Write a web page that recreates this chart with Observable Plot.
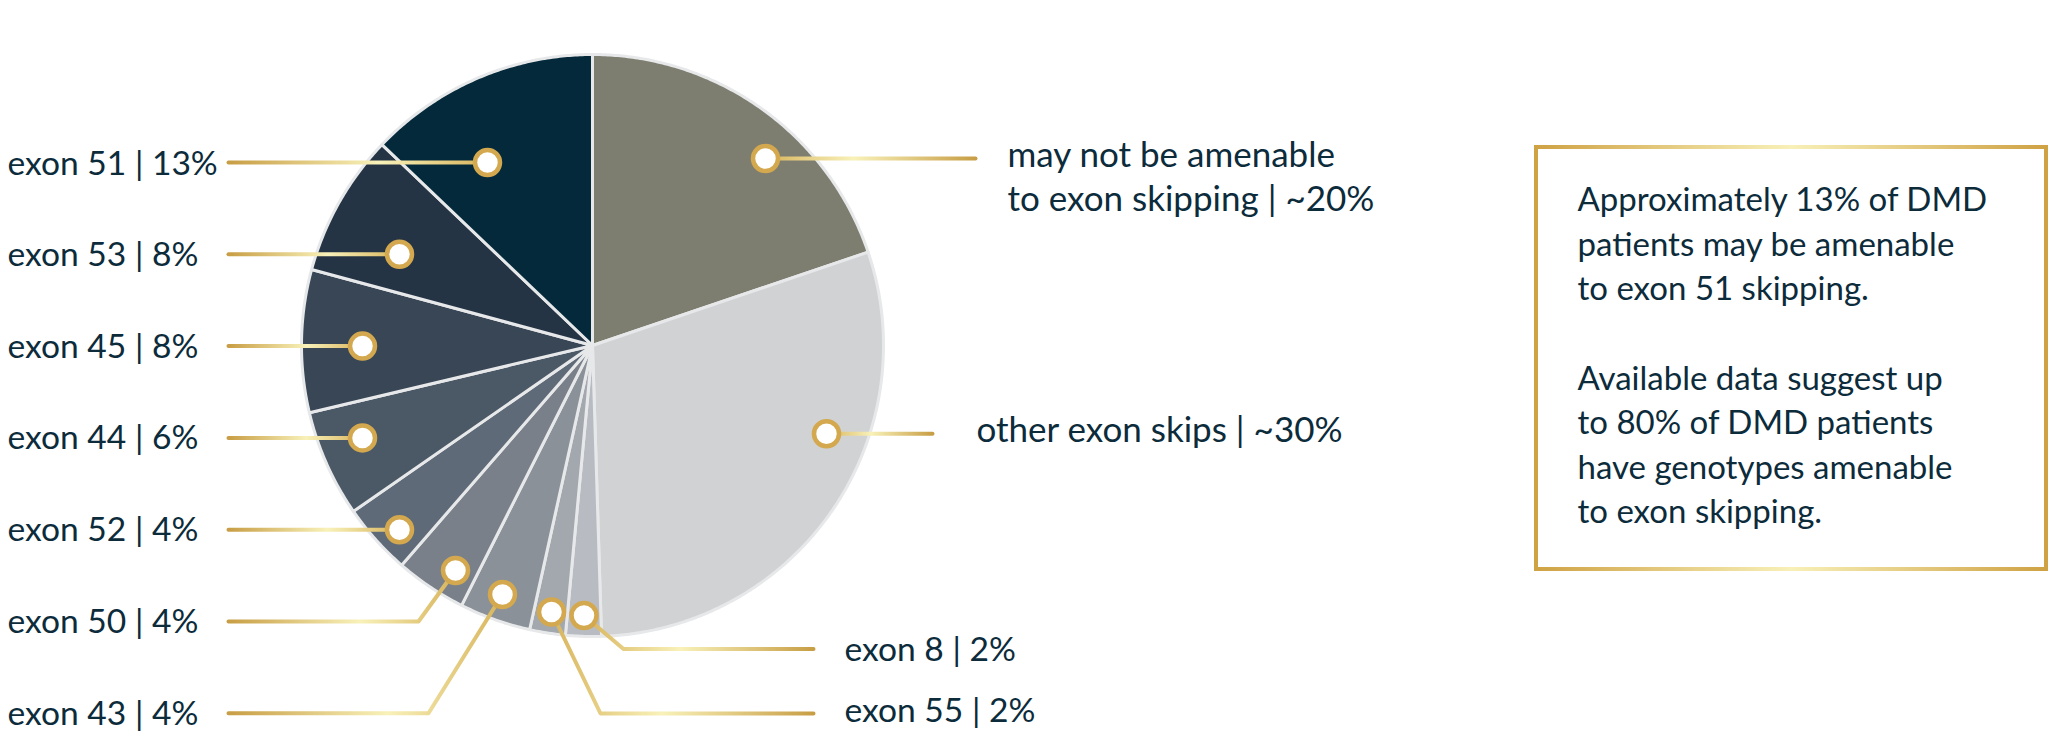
<!DOCTYPE html>
<html>
<head>
<meta charset="utf-8">
<script src="https://cdn.jsdelivr.net/npm/d3@7"></script>
<script src="https://cdn.jsdelivr.net/npm/@observablehq/plot@0.6"></script>
<style>
  html, body { margin: 0; padding: 0; background: #ffffff; }
</style>
</head>
<body>
<div id="chart"></div>
<script>
// ---------------- DATA ----------------
const sliceNames = ["may not be amenable to exon skipping", "other exon skips", "exon 8", "exon 55", "exon 43", "exon 50", "exon 52", "exon 44", "exon 45", "exon 53", "exon 51"];
const sliceValues = [20, 30, 2, 2, 4, 4, 4, 6, 8, 8, 13];
const sliceLabels = [
  ["may not be amenable", "to exon skipping | ~20%"],
  ["other exon skips | ~30%"],
  ["exon 8 | 2%"],
  ["exon 55 | 2%"],
  ["exon 43 | 4%"],
  ["exon 50 | 4%"],
  ["exon 52 | 4%"],
  ["exon 44 | 6%"],
  ["exon 45 | 8%"],
  ["exon 53 | 8%"],
  ["exon 51 | 13%"]
];
const noteLines = [
  "Approximately 13% of DMD",
  "patients may be amenable",
  "to exon 51 skipping.",
  "",
  "Available data suggest up",
  "to 80% of DMD patients",
  "have genotypes amenable",
  "to exon skipping."
];

// ---------------- STYLE / LAYOUT ----------------
const sliceColors = ["#7e7e70", "#d1d2d4", "#b8bcc2", "#a2a8ae", "#8a9199", "#79808a", "#5e6a77", "#4b5866", "#384655", "#243444", "#03293a"];
const W = 2064, H = 740;
const pie = {cx: 592, cy: 345, r: 291};
const textColor = "#0c2b3b";
const leftRow = k => 162 + 91.8 * k;
// per slice (index aligned): marker point, leader path, label start x, first baseline, line gap, font size
const layout = [
  {marker: [765, 158], path: [[975, 158]], label: [1007, 166.7], gap: 43.5, fs: 35},
  {marker: [826, 433.3], path: [[932, 433.3]], label: [976, 441.7], fs: 35},
  {marker: [583.5, 615], path: [[623, 648.5], [813, 648.5]], label: [844, 660], fs: 33.6},
  {marker: [551, 611.5], path: [[600, 713], [813, 713]], label: [844, 721.7], fs: 33.6},
  {marker: [502, 594], path: [[428, leftRow(6)], [228, leftRow(6)]], label: [7, leftRow(6) + 11.5], fs: 33.6},
  {marker: [455, 570], path: [[418, leftRow(5)], [228, leftRow(5)]], label: [7, leftRow(5) + 11.5], fs: 33.6},
  {marker: [399, leftRow(4)], path: [[228, leftRow(4)]], label: [7, leftRow(4) + 11.5], fs: 33.6},
  {marker: [362, leftRow(3)], path: [[228, leftRow(3)]], label: [7, leftRow(3) + 11.5], fs: 33.6},
  {marker: [362, leftRow(2)], path: [[228, leftRow(2)]], label: [7, leftRow(2) + 11.5], fs: 33.6},
  {marker: [399, leftRow(1)], path: [[228, leftRow(1)]], label: [7, leftRow(1) + 11.5], fs: 33.6},
  {marker: [487, leftRow(0)], path: [[228, leftRow(0)]], label: [7, leftRow(0) + 12], fs: 33.6}
];
const box = {x1: 1536, x2: 2046, y1: 147, y2: 569, textX: 1577, baseline: 210.7, gap: 44.6, fs: 33};

// ---------------- DERIVED TABLES ----------------
const arcs = d3.pie().sort(null).value(d => d)(sliceValues);
const slicePolys = arcs.map((a, i) => {
  const pts = [{x: pie.cx, y: pie.cy}];
  const n = Math.max(4, Math.ceil((a.endAngle - a.startAngle) / (Math.PI / 360)));
  for (let k = 0; k <= n; ++k) {
    const t = a.startAngle + (a.endAngle - a.startAngle) * k / n;
    pts.push({x: pie.cx + pie.r * Math.sin(t), y: pie.cy - pie.r * Math.cos(t)});
  }
  return {name: sliceNames[i], color: sliceColors[i], pts};
});

const leaders = layout.map((L, i) => {
  const pts = [L.marker, ...L.path].map(([x, y]) => ({x, y}));
  return {i, pts, x1: L.marker[0], x2: L.path[L.path.length - 1][0]};
});
const markers = layout.map((L, i) => ({name: sliceNames[i], x: L.marker[0], y: L.marker[1]}));

const labelRows = [];
sliceLabels.forEach((lines, i) => {
  const L = layout[i];
  lines.forEach((t, j) => labelRows.push({text: t, x: L.label[0], y: L.label[1] + j * (L.gap || 0), fs: L.fs}));
});
const noteRows = noteLines.map((t, j) => ({text: t, x: box.textX, y: box.baseline + j * box.gap}));

// ---------------- PLOT ----------------
const marks = [];
slicePolys.forEach(s => {
  marks.push(Plot.line(s.pts, {x: "x", y: "y", fill: s.color, stroke: "#e7e8ea", strokeWidth: 3, strokeLinejoin: "round", curve: "linear-closed"}));
});
leaders.forEach(l => {
  marks.push(Plot.line(l.pts, {x: "x", y: "y", stroke: `url(#lead${l.i})`, strokeWidth: 4, strokeLinejoin: "round"}));
});
marks.push(Plot.dot(markers, {x: "x", y: "y", r: 12.5, fill: "#ffffff", stroke: "#d3a84e", strokeWidth: 4.5}));
marks.push(Plot.rect([box], {x1: "x1", x2: "x2", y1: "y1", y2: "y2", fill: "#ffffff", stroke: "url(#boxgrad)", strokeWidth: 4}));

d3.groups(labelRows, d => d.fs).forEach(([fs, rows]) => {
  marks.push(Plot.text(rows, {
    x: "x", y: "y", text: "text",
    textAnchor: "start", lineAnchor: "bottom",
    fontSize: fs, fontFamily: "Lato", fill: textColor
  }));
});
marks.push(Plot.text(noteRows.filter(d => d.text), {
  x: "x", y: "y", text: "text",
  textAnchor: "start", lineAnchor: "bottom",
  fontSize: box.fs, fontFamily: "Lato", fill: textColor
}));

const chart = Plot.plot({
  width: W, height: H,
  margin: 0,
  x: {domain: [0, W], range: [0, W], axis: null},
  y: {domain: [0, H], range: [0, H], axis: null},
  style: {background: "#ffffff", fontFamily: "Lato"},
  marks
});

// gold gradients
const xs = chart.scale("x");
const svg = d3.select(chart.tagName.toLowerCase() === "svg" ? chart : chart.querySelector("svg"));
const defs = svg.insert("defs", ":first-child");
leaders.forEach(l => {
  const g = defs.append("linearGradient").attr("id", `lead${l.i}`)
    .attr("gradientUnits", "userSpaceOnUse")
    .attr("x1", xs.apply(l.x1)).attr("x2", xs.apply(l.x2)).attr("y1", 0).attr("y2", 0);
  g.append("stop").attr("offset", "0%").attr("stop-color", "#d8b45c");
  g.append("stop").attr("offset", "42%").attr("stop-color", "#f8f1b9");
  g.append("stop").attr("offset", "100%").attr("stop-color", "#c89e45");
});
const bg = defs.append("linearGradient").attr("id", "boxgrad")
  .attr("gradientUnits", "userSpaceOnUse")
  .attr("x1", xs.apply(box.x1)).attr("x2", xs.apply(box.x2)).attr("y1", 0).attr("y2", 0);
bg.append("stop").attr("offset", "0%").attr("stop-color", "#cfa244");
bg.append("stop").attr("offset", "50%").attr("stop-color", "#f8f0b8");
bg.append("stop").attr("offset", "100%").attr("stop-color", "#cfa244");

document.getElementById("chart").appendChild(chart);
</script>
</body>
</html>
